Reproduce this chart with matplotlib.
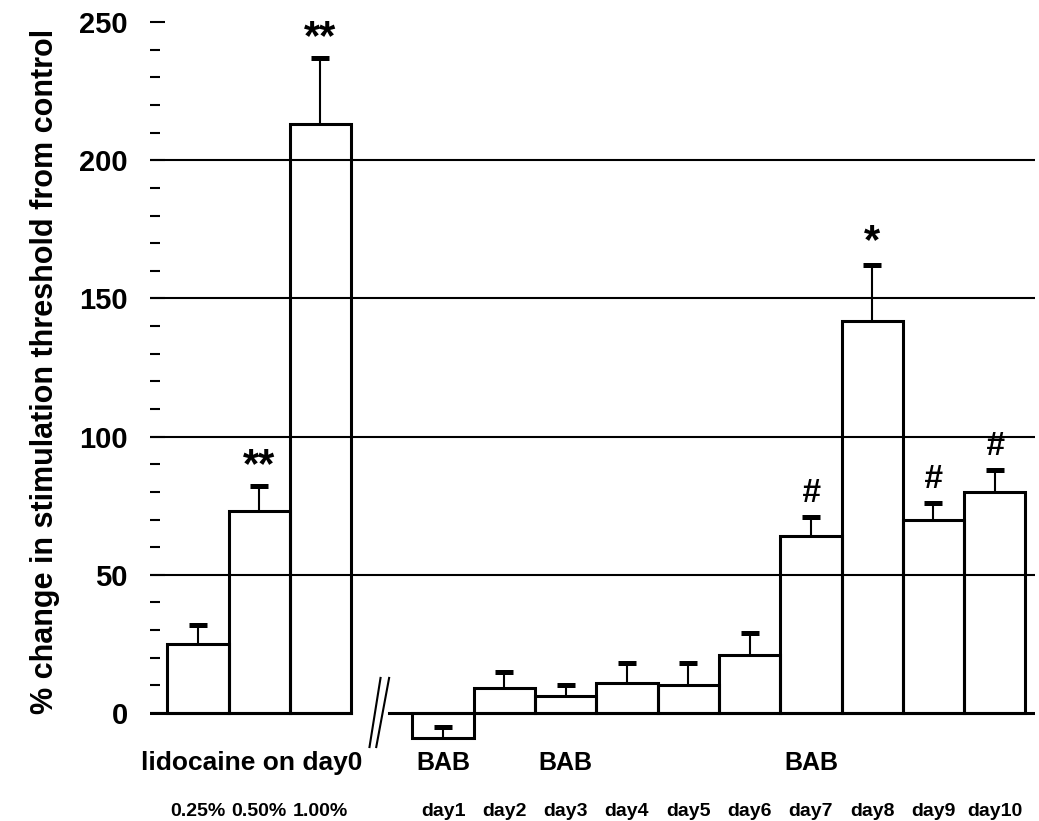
import matplotlib
matplotlib.use("Agg")
import matplotlib.pyplot as plt
import numpy as np

# bar data (% change from control)
lido_labels = ["0.25%", "0.50%", "1.00%"]
lido_vals = [25, 73, 213]
lido_err = [7, 9, 24]

bab_labels = ["day1", "day2", "day3", "day4", "day5", "day6", "day7", "day8", "day9", "day10"]
bab_vals = [-9, 9, 6, 11, 10, 21, 64, 142, 70, 80]
bab_err = [4, 6, 4, 7, 8, 8, 7, 20, 6, 8]

lido_marks = ["", "**", "**"]
bab_marks = ["", "", "", "", "", "", "#", "*", "#", "#"]

plt.rcParams['font.family'] = ['Liberation Sans', 'DejaVu Sans']

fig = plt.figure(figsize=(10.39, 8.21), dpi=100)
ax = fig.add_axes([0.1444, 0.081, 0.852, 0.909])

x_lido = np.arange(3)
x_bab = np.arange(10) + 4
lw = 2.2

ax.bar(x_lido, lido_vals, width=1.0, facecolor='none', edgecolor='black', linewidth=lw, zorder=3)
ax.bar(x_bab, bab_vals, width=1.0, facecolor='none', edgecolor='black', linewidth=lw, zorder=3)
for xs, vs, es in [(x_lido, lido_vals, lido_err), (x_bab, bab_vals, bab_err)]:
    eb = ax.errorbar(xs, vs, yerr=[np.zeros(len(vs)), es], fmt='none', ecolor='black',
                     elinewidth=1.5, capsize=6.5, capthick=3.6, zorder=4)
    eb[1][0].set_visible(False)  # only the upper cap

ax.set_xlim(-0.78, 13.66)
ax.set_ylim(-15, 255)

# horizontal grid lines
for g in [50, 100, 150, 200]:
    ax.axhline(g, color='black', linewidth=1.5, zorder=2)

# zero line with break
ax.plot([-0.78, 2.5], [0, 0], color='black', linewidth=lw, zorder=3)
ax.plot([3.12, 13.66], [0, 0], color='black', linewidth=lw, zorder=3)
ax.plot([2.80, 2.98], [-12.3, 12.7], color='black', linewidth=1.5, clip_on=False)
ax.plot([2.91, 3.12], [-12.3, 12.7], color='black', linewidth=1.5, clip_on=False)

for s in ax.spines.values():
    s.set_visible(False)

ax.set_yticks([0, 50, 100, 150, 200, 250])
ax.set_yticks(np.arange(0, 251, 10), minor=True)
ax.tick_params(axis='y', which='major', direction='in', length=11, width=1.5, pad=16,
               labelsize=21)
ax.tick_params(axis='y', which='minor', direction='in', length=7, width=1.5)
for t in ax.get_yticklabels():
    t.set_fontweight('bold')
ax.set_xticks([])

# significance marks
for xi, v, e, m in zip(x_lido, lido_vals, lido_err, lido_marks):
    if m:
        ax.text(xi, v + e, m, ha='center', va='bottom', fontsize=30, fontweight='bold')
for xi, v, e, m in zip(x_bab, bab_vals, bab_err, bab_marks):
    if m == "#":
        ax.text(xi, v + e + 3, m, ha='center', va='bottom', fontsize=24,
                style='italic', fontweight='bold')
    elif m:
        ax.text(xi, v + e + 1, m, ha='center', va='bottom', fontsize=30, fontweight='bold')

# group labels
ax.text(0.88, -18, "lidocaine on day0", ha='center', va='center', fontsize=19,
        fontweight='bold', clip_on=False)
for xi in [4, 6, 10]:
    ax.text(xi, -18, "BAB", ha='center', va='center', fontsize=18, fontweight='bold', clip_on=False)
for xi, lab in zip(x_lido, lido_labels):
    ax.text(xi, -35.5, lab, ha='center', va='center', fontsize=14, fontweight='bold', clip_on=False)
for xi, lab in zip(x_bab, bab_labels):
    ax.text(xi, -35.5, lab, ha='center', va='center', fontsize=14, fontweight='bold', clip_on=False)

fig.text(45 / 1039, 1 - 371 / 821, "% change in stimulation threshold from control",
         rotation=90, ha='center', va='center', fontsize=22, fontweight='bold')

fig.savefig("out.png", dpi=100)
